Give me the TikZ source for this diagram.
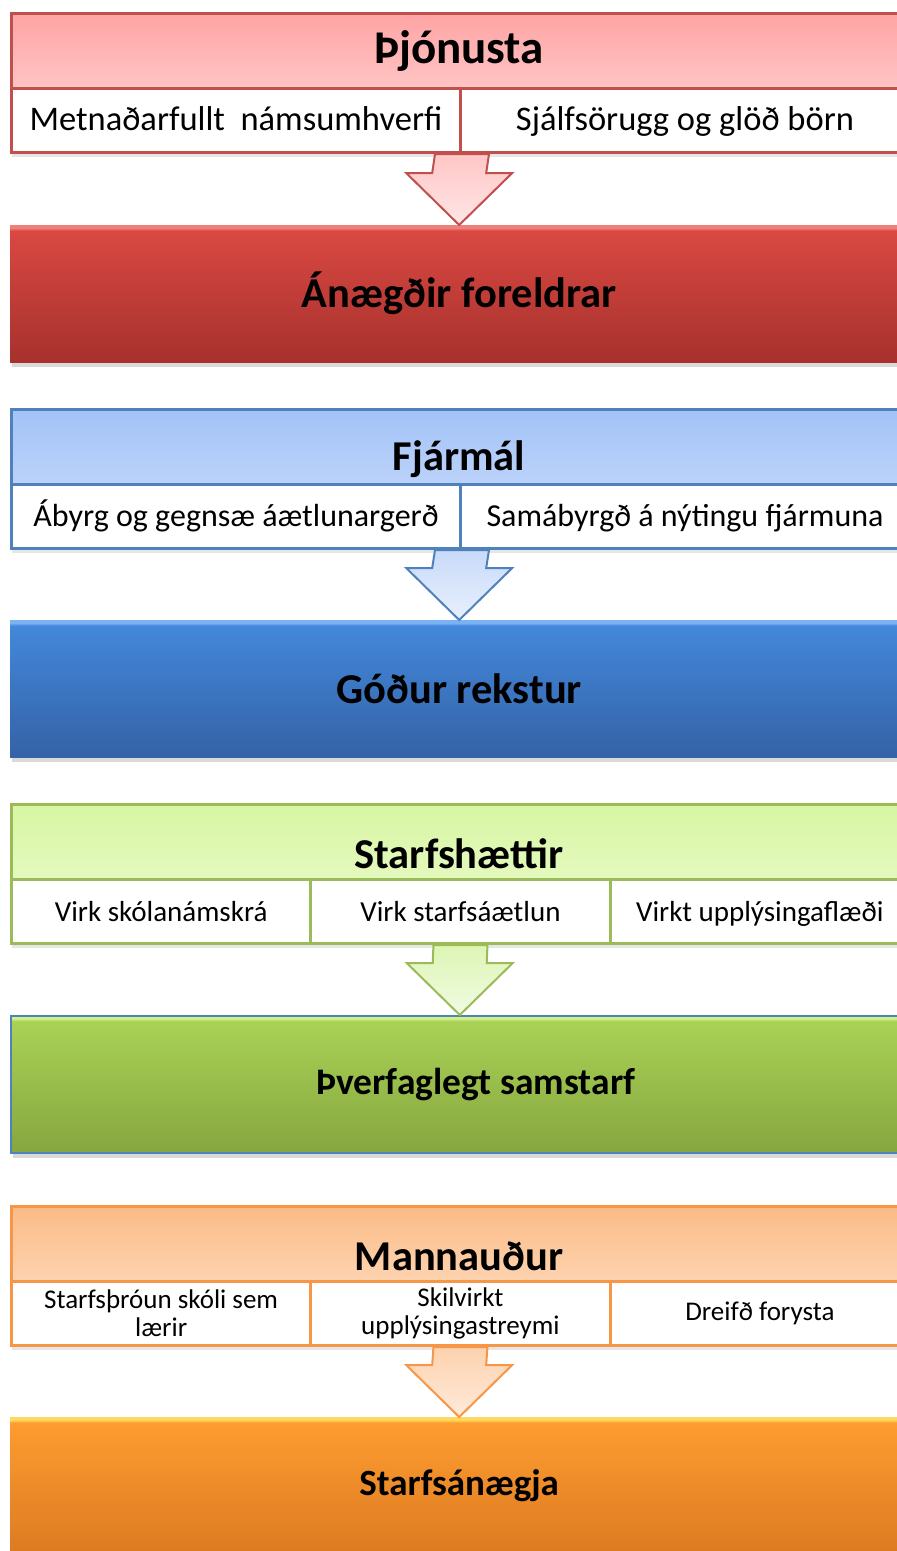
\documentclass[tikz,border=0pt]{standalone}
\usepackage{fontspec}
\setmainfont{Carlito}
\usetikzlibrary{calc,shadows}

% line colours
\definecolor{redline}{HTML}{C0504D}
\definecolor{blueline}{HTML}{4F81BD}
\definecolor{greenline}{HTML}{9BBB59}
\definecolor{orangeline}{HTML}{F79646}
% header fills
\definecolor{redhdA}{HTML}{FFA4A4}
\definecolor{redhdB}{HTML}{FFC4C4}
\definecolor{bluehdA}{HTML}{A3C2F7}
\definecolor{bluehdB}{HTML}{BCD3FA}
\definecolor{greenhdA}{HTML}{D7F6A2}
\definecolor{greenhdB}{HTML}{E4F9BE}
\definecolor{orangehdA}{HTML}{FBBB86}
\definecolor{orangehdB}{HTML}{FDD3B0}
% arrow fills
\definecolor{redarA}{HTML}{FFC6C6}
\definecolor{redarB}{HTML}{FFE6E6}
\definecolor{bluearA}{HTML}{C8DAF9}
\definecolor{bluearB}{HTML}{E8F0FD}
\definecolor{greenarA}{HTML}{DDF5B4}
\definecolor{greenarB}{HTML}{F1FBE3}
\definecolor{orangearA}{HTML}{FCD2AE}
\definecolor{orangearB}{HTML}{FFEADA}
% bar fills
\definecolor{redtop}{HTML}{DA4842}
\definecolor{redbot}{HTML}{A6312D}
\definecolor{redhi}{HTML}{F2807A}
\definecolor{bluetop}{HTML}{4388DB}
\definecolor{bluebot}{HTML}{3462A6}
\definecolor{bluehi}{HTML}{7AB2F2}
\definecolor{greentop}{HTML}{A9D255}
\definecolor{greenbot}{HTML}{86A640}
\definecolor{greenhi}{HTML}{D2F28A}
\definecolor{orangetop}{HTML}{FE9C30}
\definecolor{orangebot}{HTML}{DC7A22}
\definecolor{orangehi}{HTML}{FFD85E}

\pgfdeclareverticalshading{redbar}{100bp}{color(0bp)=(redbot); color(25bp)=(redbot); color(73bp)=(redtop); color(74bp)=(redhi); color(100bp)=(redhi)}
\pgfdeclareverticalshading{bluebar}{100bp}{color(0bp)=(bluebot); color(25bp)=(bluebot); color(73bp)=(bluetop); color(74bp)=(bluehi); color(100bp)=(bluehi)}
\pgfdeclareverticalshading{greenbar}{100bp}{color(0bp)=(greenbot); color(25bp)=(greenbot); color(73bp)=(greentop); color(74bp)=(greenhi); color(100bp)=(greenhi)}
\pgfdeclareverticalshading{orangebar}{100bp}{color(0bp)=(orangebot); color(25bp)=(orangebot); color(73bp)=(orangetop); color(74bp)=(orangehi); color(100bp)=(orangehi)}

% block arrow from the bottom of a row of cells (#1) down to the bar (#2)
\newcommand{\flowarrow}[3]{%
  \draw[down, #3] ($(#1)+(-27,0)$) -- ($(#2)+(-27,-52)$) -- ($(#2)+(-53,-52)$) -- (#2)
    -- ($(#2)+(53,-52)$) -- ($(#2)+(27,-52)$) -- ($(#1)+(27,0)$) -- cycle;}

\begin{document}
\begin{tikzpicture}[x=1pt, y=-1pt]
      \tikzstyle{head} = [rectangle, draw, line width=3pt, minimum width=898pt, minimum height=75pt, anchor=north west, inner sep=0pt]
      \tikzstyle{title} = [anchor=base, font=\bfseries\fontsize{42.5}{44}\selectfont]
      \tikzstyle{cell} = [rectangle, draw, line width=3pt, fill=white, minimum height=64pt, anchor=north west, inner sep=0pt, align=center, drop shadow={opacity=0.2, shadow xshift=0pt, shadow yshift=-4pt}]
      \tikzstyle{bar} = [rectangle, minimum width=898pt, minimum height=137pt, anchor=north west, inner sep=0pt, font=\bfseries\fontsize{42.5}{44}\selectfont, drop shadow={opacity=0.3, shadow xshift=2pt, shadow yshift=-5pt}]
      \tikzstyle{down} = [line width=2pt, line join=miter]
      \tikzstyle{redcell} = [cell, draw=redline, minimum width=449pt, font=\fontsize{34.5}{36}\selectfont, text height=24pt, text depth=4pt]
      \tikzstyle{bluecell} = [cell, draw=blueline, minimum width=449pt, font=\fontsize{32}{34}\selectfont, text height=22pt, text depth=2pt]
      \tikzstyle{greencell} = [cell, draw=greenline, minimum width=299.3pt, font=\fontsize{29}{31}\selectfont, text height=20pt, text depth=0pt]
      \tikzstyle{orangecell} = [cell, draw=orangeline, minimum width=299.3pt, font=\fontsize{27}{28}\selectfont]

      \clip (0,0) rectangle (897,1551);

      % Þjónusta
      \node[head, draw=redline, top color=redhdA, bottom color=redhdB] (hd1) at (10,12) {};
      \node[title, font=\bfseries\fontsize{47}{49}\selectfont] (t1) at (459,63) {Þjónusta};
      \node[redcell] (c11) at (10,87) {Metnaðarfullt\ \ námsumhverfi};
      \node[redcell] (c12) at (459,87) {Sjálfsörugg og glöð börn};
      \node[bar, shading=redbar] (b1) at (10,225) {Ánægðir foreldrar};

      % Fjármál
      \node[head, draw=blueline, top color=bluehdA, bottom color=bluehdB] (hd2) at (10,408) {};
      \node[title] (t2) at (459,470) {Fjármál};
      \node[bluecell] (c21) at (10,483) {Ábyrg og gegnsæ áætlunargerð};
      \node[bluecell] (c22) at (459,483) {Samábyrgð á nýtingu fjármuna};
      \node[bar, shading=bluebar] (b2) at (10,620) {Góður rekstur};

      % Starfshættir
      \node[head, draw=greenline, top color=greenhdA, bottom color=greenhdB] (hd3) at (10,803) {};
      \node[title] (t3) at (459,868) {Starfshættir};
      \node[greencell] (c31) at (10,878) {Virk skólanámskrá};
      \node[greencell] (c32) at (309.3,878) {Virk starfsáætlun};
      \node[greencell] (c33) at (608.7,878) {Virkt upplýsingaflæði};
      \node[bar, shading=greenbar, draw=blueline, line width=1.5pt, font=\bfseries\fontsize{37.5}{40}\selectfont] (b3) at (10,1015) {\hspace*{32pt}Þverfaglegt samstarf};

      % Mannauður
      \node[head, draw=orangeline, top color=orangehdA, bottom color=orangehdB] (hd4) at (10,1205) {};
      \node[title] (t4) at (459,1270) {Mannauður};
      \node[orangecell] (c41) at (10,1280) {Starfsþróun skóli sem\\lærir};
      \node[orangecell] (c42) at (309.3,1280) {Skilvirkt\\upplýsingastreymi};
      \node[orangecell] (c43) at (608.7,1280) {Dreifð forysta};
      \node[bar, shading=orangebar, font=\bfseries\fontsize{37}{40}\selectfont] (b4) at (10,1417) {Starfsánægja};

      \flowarrow{c11.south east}{b1.north}{draw=redline, top color=redarA, bottom color=redarB}
      \flowarrow{c21.south east}{b2.north}{draw=blueline, top color=bluearA, bottom color=bluearB}
      \flowarrow{c32.south}{b3.north}{draw=greenline, top color=greenarA, bottom color=greenarB}
      \flowarrow{c42.south}{b4.north}{draw=orangeline, top color=orangearA, bottom color=orangearB}
    \end{tikzpicture}
\end{document}
